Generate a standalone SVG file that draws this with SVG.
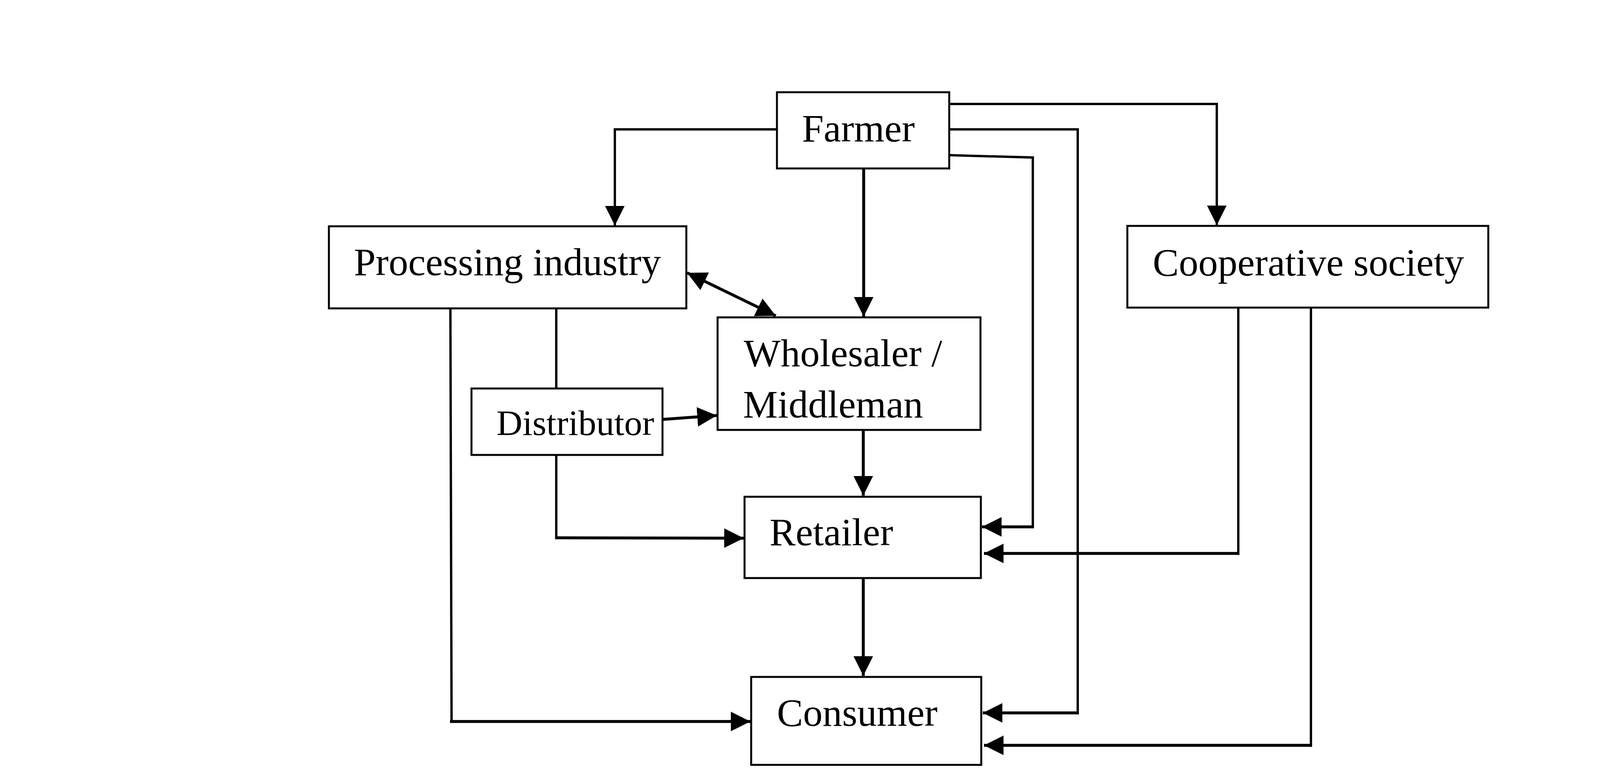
<svg xmlns="http://www.w3.org/2000/svg" width="4163" height="1965" viewBox="0 0 4163 1965">
<style>
.box{fill:#fff;stroke:#000;stroke-width:5}
.lbl{font-family:"Liberation Serif","Times New Roman",serif;font-size:100px;fill:#000}
.ln{fill:none;stroke:#000;stroke-width:6}
.lnb{fill:none;stroke:#000;stroke-width:7.5}
.arr{marker-end:url(#ah)}
</style>
<defs>
<marker id="ah" markerUnits="userSpaceOnUse" markerWidth="50" markerHeight="50" viewBox="0 0 49 49" refX="49" refY="24.5" orient="auto-start-reverse">
<path d="M0,0 L49,24.5 L0,49 Z" fill="#000"/>
</marker>
</defs>
<rect width="4163" height="1965" fill="#fff"/>
<g id="connectors">
<polyline class="ln arr" points="1988,331 1574,331 1574,577"/>
<polyline class="ln arr" points="2431,266 3115,266 3115,576"/>
<polyline class="ln" points="2431,331 2759,331 2759,1828"/>
<line class="lnb arr" x1="2762" y1="1824" x2="2516" y2="1824"/>
<polyline class="ln" points="2431,397 2644,403 2644,1351"/>
<line class="lnb arr" x1="2647" y1="1348" x2="2514" y2="1348"/>
<line class="ln" x1="3170" y1="789" x2="3170" y2="1420"/>
<line class="lnb arr" x1="3173" y1="1416" x2="2519" y2="1416"/>
<line class="ln" x1="3356" y1="789" x2="3356" y2="1911"/>
<line class="lnb arr" x1="3359" y1="1907" x2="2519" y2="1907"/>
<line class="lnb arr" x1="2211" y1="432" x2="2211" y2="810"/>
<line class="lnb arr" x1="1759" y1="698" x2="1986" y2="808" marker-start="url(#ah)"/>
<line class="lnb arr" x1="1698" y1="1073" x2="1835" y2="1063"/>
<line class="ln" x1="1424" y1="791" x2="1424" y2="993"/>
<line class="ln" x1="1424" y1="1166" x2="1424" y2="1373"/>
<line class="lnb arr" x1="1421" y1="1376" x2="1904" y2="1377"/>
<line class="ln" x1="1153" y1="791" x2="1156" y2="1848"/>
<line class="lnb arr" x1="1152" y1="1846" x2="1921" y2="1846"/>
<line class="lnb arr" x1="2210" y1="1102" x2="2210" y2="1268"/>
<line class="lnb arr" x1="2210" y1="1481" x2="2210" y2="1729"/>
</g>
<g id="farmer">
<rect class="box" x="1989" y="236" width="441" height="195"/>
<text class="lbl" x="2053" y="362">Farmer</text>
</g>
<g id="processing">
<rect class="box" x="842" y="579" width="915" height="210"/>
<text class="lbl" x="906" y="704">Processing industry</text>
</g>
<g id="cooperative">
<rect class="box" x="2886" y="578" width="924" height="209"/>
<text class="lbl" x="2951" y="705">Cooperative society</text>
</g>
<g id="wholesaler">
<rect class="box" x="1837" y="812" width="673" height="288"/>
<text class="lbl" x="1904" y="937">Wholesaler /</text>
<text class="lbl" x="1902" y="1068">Middleman</text>
</g>
<g id="distributor">
<rect class="box" x="1207" y="994" width="489" height="170"/>
<text class="lbl" x="1271" y="1113" style="font-size:92px">Distributor</text>
</g>
<g id="retailer">
<rect class="box" x="1906" y="1271" width="605" height="208"/>
<text class="lbl" x="1970" y="1395">Retailer</text>
</g>
<g id="consumer">
<rect class="box" x="1923" y="1732" width="589" height="225"/>
<text class="lbl" x="1989" y="1857">Consumer</text>
</g>
</svg>
